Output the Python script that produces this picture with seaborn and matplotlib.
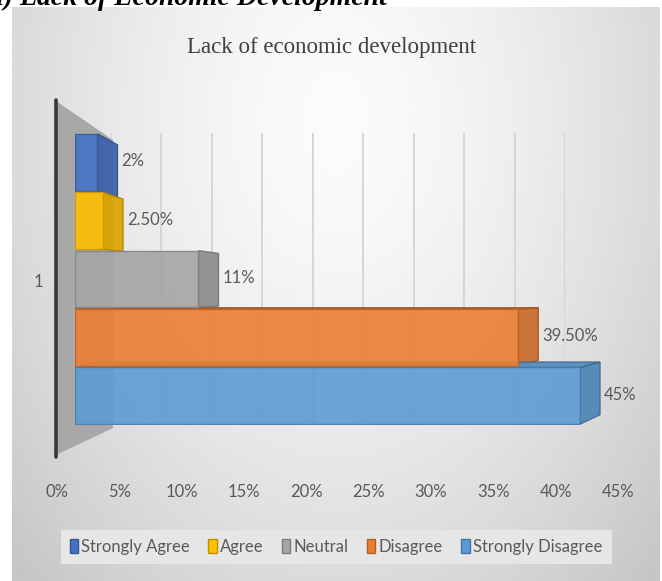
import numpy as np
import pandas as pd
import matplotlib
matplotlib.use("Agg")
import matplotlib.pyplot as plt
import seaborn as sns
import matplotlib.colors as mcolors
from matplotlib.patches import Polygon, Patch
from matplotlib.lines import Line2D
from matplotlib.transforms import IdentityTransform

# ---------------- data ----------------
categories = ["Strongly Agree", "Agree", "Neutral", "Disagree", "Strongly Disagree"]
values = [2.0, 2.5, 11.0, 39.5, 45.0]
value_labels = ["2%", "2.50%", "11%", "39.50%", "45%"]
colors = ["#4472C4", "#FFC000", "#A5A5A5", "#ED7D31", "#5B9BD5"]
xticks = [0, 5, 10, 15, 20, 25, 30, 35, 40, 45]
xtick_labels = ["0%", "5%", "10%", "15%", "20%", "25%", "30%", "35%", "40%", "45%"]
series_label = "1"
title = "Lack of economic development"
caption = "i) Lack of Economic Development"

# ---------------- setup ----------------
W, H = 662, 581
sns.set_theme(style="white")
plt.rcParams["font.family"] = ["Lato", "DejaVu Sans"]
TXT = "#595959"
FS = 12

fig = plt.figure(figsize=(W / 100, H / 100), dpi=100)
fig.patch.set_facecolor("white")


def fx(px):
    return px / W


def fy(py):
    return 1 - py / H


def darker(c, f=0.78):
    r, g, b = mcolors.to_rgb(c)
    return (r * f, g * f, b * f)


# gradient background panel
bg = fig.add_axes([fx(12), fy(581), fx(660) - fx(12), fy(7) - fy(581)], zorder=-10)
yy, xx = np.mgrid[0:1:200j, 0:1:300j]
r = np.sqrt(((xx - 0.5) / 0.55) ** 2 + ((yy - 0.2) / 0.9) ** 2)
val = 0.985 - 0.15 * np.clip(r, 0, 1.25) ** 1.5
bg.imshow(val, cmap="gray", vmin=0, vmax=1, aspect="auto", extent=[0, 1, 0, 1],
          interpolation="bilinear")
bg.axis("off")

# back wall with vertical gridlines
wall = fig.add_axes([fx(111), fy(425), fx(565) - fx(111), fy(133) - fy(425)], zorder=1)
wall.set_xlim(0, 45)
wall.set_ylim(0, 1)
wall.set_xticks(xticks)
wall.set_yticks([])
wall.xaxis.grid(True, color="#d4d4d4", lw=1.3)
wall.tick_params(bottom=False, labelbottom=False)
for s in wall.spines.values():
    s.set_visible(False)
wall.patch.set_alpha(0)

# left side wall + dark axis line
fig.add_artist(Polygon([(fx(56), fy(101)), (fx(113), fy(140)), (fx(113), fy(428)), (fx(56), fy(455))],
                       closed=True, transform=fig.transFigure, facecolor="#a8a8a8",
                       edgecolor="none", zorder=2))
fig.add_artist(Line2D([fx(56), fx(56)], [fy(100), fy(457)], color="#3a3a3a", lw=2.6,
                      transform=fig.transFigure, zorder=2.5))

# bars
ax = fig.add_axes([fx(75), fy(425), fx(580) - fx(75), fy(133) - fy(425)], zorder=3)
df = pd.DataFrame({"category": categories, "value": values})
sns.barplot(data=df, x="value", y="category", hue="category", palette=colors, orient="h",
            width=0.97, ax=ax, legend=False, saturation=1, alpha=0.9)
ax.set_xlim(0, 45)
ax.set_ylim(4.5, -0.5)
ax.axis("off")

fig.canvas.draw()
DX = 20
VP = 290.0
K = 0.07
for p in ax.patches:
    if p.get_width() <= 0:
        continue
    i = int(round(p.get_y() + p.get_height() / 2))
    c = colors[i]
    p.set_edgecolor(darker(c, 0.8))
    p.set_linewidth(1.0)
    x0d, y0d = ax.transData.transform((p.get_x(), p.get_y()))
    x1d, y1d = ax.transData.transform((p.get_x() + p.get_width(), p.get_y() + p.get_height()))
    t = H - max(y0d, y1d)
    b = H - min(y0d, y1d)
    xl, xr = min(x0d, x1d), max(x0d, x1d)
    dyt = K * (VP - t)
    dyb = K * (VP - b)
    side = [(xr, H - t), (xr + DX, H - (t + dyt)), (xr + DX, H - (b + dyb)), (xr, H - b)]
    fig.add_artist(Polygon(side, closed=True, transform=IdentityTransform(),
                           facecolor=darker(c, 0.85), edgecolor=darker(c, 0.7), lw=1.0,
                           alpha=0.92, zorder=2.8))
    if dyt < -1:
        top = [(xl, H - t), (xr, H - t), (xr + DX, H - (t + dyt)), (xl + DX, H - (t + dyt))]
        fig.add_artist(Polygon(top, closed=True, transform=IdentityTransform(),
                               facecolor=darker(c, 0.9), edgecolor=darker(c, 0.7), lw=1.0,
                               alpha=0.92, zorder=2.8))
    ax.annotate(value_labels[i], xy=(p.get_x() + p.get_width(), i), xytext=(DX + 4, 1),
                textcoords="offset pixels", ha="left", va="center", fontsize=FS, color=TXT)

# category label
fig.text(fx(38), fy(282), series_label, ha="center", va="center", fontsize=FS, color=TXT)

# tick labels on the floor
tax = fig.add_axes([fx(57), fy(474), fx(618) - fx(57), 0.0001], zorder=4)
tax.set_xlim(0, 45)
tax.set_xticks(xticks)
tax.set_xticklabels(xtick_labels)
tax.set_yticks([])
tax.tick_params(axis="x", length=0, pad=7, labelsize=FS, labelcolor=TXT)
for s in tax.spines.values():
    s.set_visible(False)
tax.patch.set_alpha(0)

# title and caption
fig.text(fx(332), fy(47), title, ha="center", va="center", fontsize=16.5, color="#404040",
         family=["Liberation Serif", "DejaVu Serif"])
fig.text(fx(-4), fy(5), caption, ha="left", va="baseline", fontsize=20, color="black",
         family=["Liberation Serif", "DejaVu Serif"], weight="bold", style="italic")

# legend
handles = [Patch(facecolor=c, edgecolor=darker(c, 0.75), lw=1) for c in colors]
leg = fig.legend(handles, categories, loc="center", bbox_to_anchor=(fx(336), fy(547)), ncol=5,
                 frameon=True, fontsize=FS, handlelength=0.5, handleheight=0.95,
                 handletextpad=0.2, columnspacing=1.1, borderpad=0.55, fancybox=False)
leg.get_frame().set_facecolor("#e6e6e6")
leg.get_frame().set_edgecolor("none")
leg.get_frame().set_alpha(1)
for tx in leg.get_texts():
    tx.set_color(TXT)

fig.savefig("out.png", dpi=100)
